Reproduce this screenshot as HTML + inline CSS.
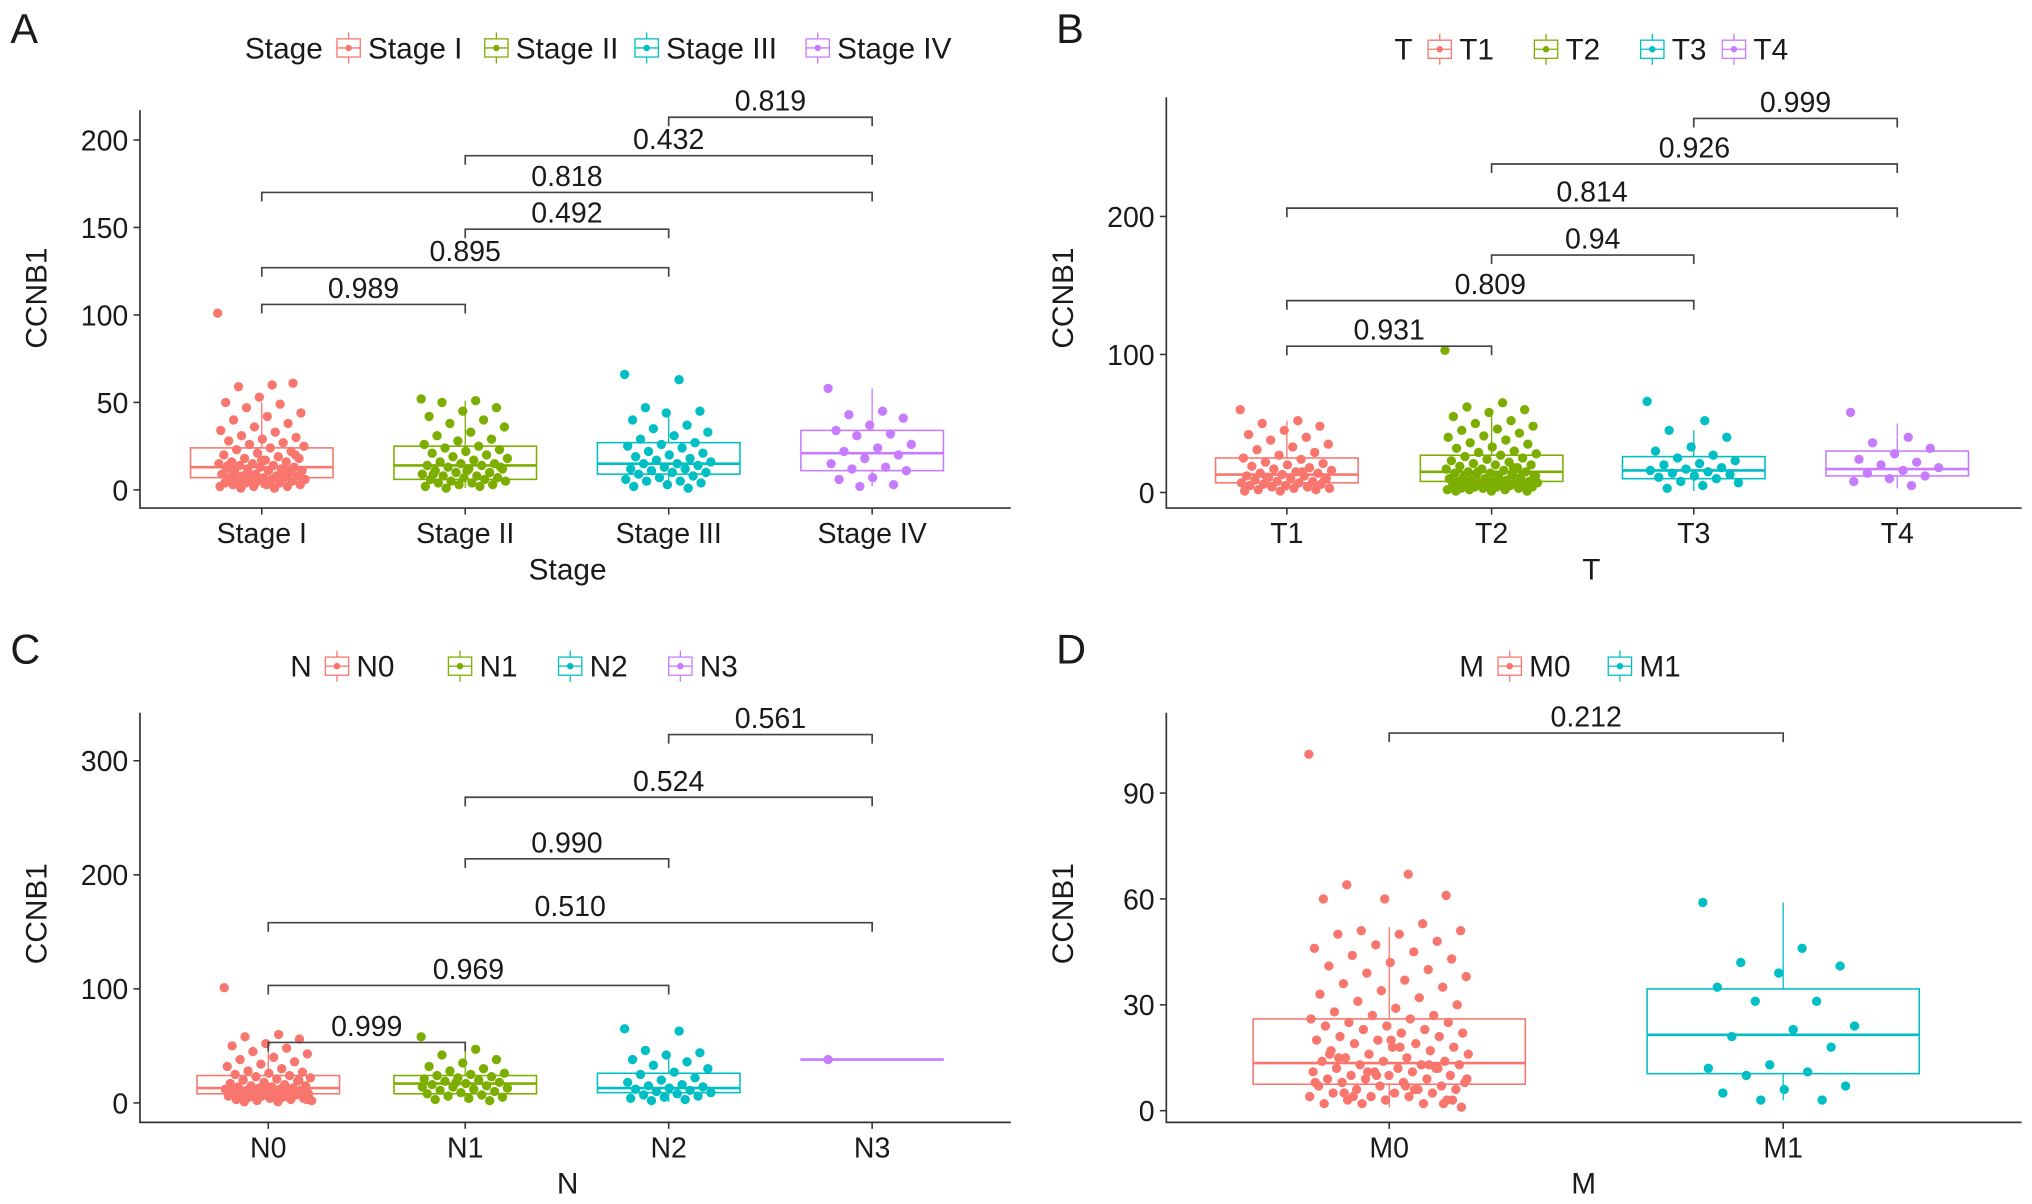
<!DOCTYPE html>
<html><head><meta charset="utf-8"><style>
html,body{margin:0;padding:0;background:#fff;}
svg{display:block;}
text{font-family:"Liberation Sans",sans-serif;fill:#1a1a1a;}
</style></head><body>
<svg id="fig" width="2032" height="1204" viewBox="0 0 1568 929" preserveAspectRatio="none" xmlns="http://www.w3.org/2000/svg"></svg>
<script>
// ---------- data ----------
const colors4 = ["#F8766D","#7CAE00","#00BFC4","#C77CFF"];
const colors2 = ["#F8766D","#00BFC4"];

const aCats = ["Stage I","Stage II","Stage III","Stage IV"];
const aBoxes = [[1,7,13,24,50],[1,6,14,25,51],[1,9,15,27,45],[2,11,21,34,58]];
const aStage1 = [101,60,59,61,53,50,49,47,44,42,40,38,36,34,33,31,30,29,28,27,26,25,24,23,22,21,20,19,18,18,17,16,16,15,15,14,14,13,13,12,12,12,11,11,10,10,9,9,8,8,8,7,7,7,6,6,6,5,5,5,4,4,4,3,3,3,2,2,2,1,1,20,17,14,11,9,6,4];
const aStage2 = [52,51,50,47,45,42,40,38,36,33,31,29,28,26,25,24,23,22,21,20,19,18,17,16,15,15,14,14,13,12,12,11,10,10,9,8,8,7,7,6,6,5,5,4,4,3,3,2,2,1,13,11,9];
const aStage3 = [66,63,47,45,44,40,37,35,33,31,29,27,26,25,24,22,21,20,19,18,17,16,15,15,14,13,12,12,11,10,10,9,8,7,6,5,5,4,3,2,1];
const aStage4 = [58,45,43,41,37,34,32,31,26,24,22,20,18,15,13,12,11,7,6,3,2];
const aValues = [aStage1,aStage2,aStage3,aStage4];
const aBrackets = [[0,1,106,"0.989"],[0,2,127,"0.895"],[1,2,149,"0.492"],[0,3,170,"0.818"],[1,3,191,"0.432"],[2,3,213,"0.819"]];
const aTicks = [0,50,100,150,200];

const bCats = ["T1","T2","T3","T4"];
const bBoxes = [[1,7,13,25,52],[1,8,15,27,56],[1,10,16,26,45],[3,12,17,30,50]];
const bT1 = [60,52,50,48,45,42,40,38,35,33,31,29,27,25,24,22,21,20,19,18,17,16,15,14,14,13,12,12,11,10,10,9,8,8,7,7,6,6,5,5,4,4,3,3,2,2,1,1,15,11,9];
const bT2 = [103,65,62,60,58,55,52,50,48,46,45,43,41,40,38,36,35,33,32,30,29,28,27,26,25,24,23,22,21,20,20,19,18,17,17,16,15,15,14,14,13,13,12,12,11,11,10,10,9,9,8,8,8,7,7,7,6,6,6,5,5,5,4,4,4,3,3,3,2,2,2,1,1,1,18,15,12,9,6];
const bT3 = [66,52,45,40,33,30,27,25,23,21,20,18,17,16,15,14,13,12,11,10,8,7,5,3];
const bT4 = [58,40,36,32,28,24,22,20,18,16,14,12,10,8,5];
const bValues = [bT1,bT2,bT3,bT4];
const bBrackets = [[0,1,106,"0.931"],[0,2,139,"0.809"],[1,2,172,"0.94"],[0,3,206,"0.814"],[1,3,238,"0.926"],[2,3,271,"0.999"]];
const bTicks = [0,100,200];

const cCats = ["N0","N1","N2","N3"];
const cBoxes = [[1,8,13,24,52],[1,8,17,24,45],[1,9,13,26,45],[38,38,38,38,38]];
const cN0 = [101,60,58,56,52,50,48,45,43,40,38,36,34,32,30,28,27,26,25,24,23,22,21,20,19,18,17,16,15,15,14,14,13,13,12,12,11,11,10,10,9,9,8,8,7,7,6,6,5,5,4,4,3,3,2,2,1,1,20,16,12,9,6,3];
const cN1 = [58,47,42,38,35,32,30,28,26,25,24,23,22,21,20,19,18,17,16,15,14,13,12,11,10,9,8,7,6,5,4,3,2,18,14];
const cN2 = [65,63,46,44,42,38,36,33,30,27,25,22,20,18,16,15,14,13,12,11,10,9,8,7,6,5,4,3,2];
const cN3 = [38];
const cValues = [cN0,cN1,cN2,cN3];
const cBrackets = [[0,1,53,"0.999"],[0,2,103,"0.969"],[0,3,158,"0.510"],[1,2,214,"0.990"],[1,3,268,"0.524"],[2,3,323,"0.561"]];
const cTicks = [0,100,200,300];

const dCats = ["M0","M1"];
const dBoxes = [[1,7.5,13.5,26,52],[3,10.5,21.5,34.5,59]];
const dM0 = [101,67,64,61,60,60,53,51,51,50,50,48,47,46,45,44,43,42,41,40,39,38,37,36,35,34,33,32,31,30,29,28,27,27,26,26,25,25,24,24,23,23,22,22,21,21,20,20,19,19,18,18,17,17,16,16,15,15,14,14,14,13,13,13,12,12,12,11,11,11,10,10,10,9,9,9,8,8,8,7,7,7,6,6,6,5,5,5,4,4,4,3,3,3,2,2,2,1,18,15,12,10,8,6,4,3,20,16,13,11,9,7,5,2];
const dM1 = [59,46,42,41,39,35,31,31,24,23,21,18,13,12,11,10,7,6,5,3,3];
const dValues = [dM0,dM1];
const dBrackets = [[0,1,107,"0.212"]];
const dTicks = [0,30,60,90];

// ---------- drawing ----------
const NS = "http://www.w3.org/2000/svg";
const svg = document.getElementById("fig");
function mk(tag, attrs, parent){
  const e = document.createElementNS(NS, tag);
  for (const k in attrs) e.setAttribute(k, attrs[k]);
  (parent||svg).appendChild(e);
  return e;
}

function panel(p){
  const colors = p.colors;
  const g = mk("g", {});
  
  
  const ys = v => p.zeroY - v * p.ppu;
  const xs = i => p.catX[i];
  const L = mk("text", {x:p.letterX, y:p.letterY, "font-size":32}, g);
  L.textContent = p.letter;
  
  
  const lg = mk("g", {}, g);
  
  
  const lt = mk("text", {x:p.legTitleX, y:p.legY+8, "font-size":23}, lg);
  lt.textContent = p.legTitle;
  
  
  p.cats.forEach((c,i)=>{
    const kx = p.legKeyX[i];
    const ke = mk("g", {}, lg);
    
    
    mk("line", {x1:kx+9, x2:kx+9, y1:p.legY-12, y2:p.legY+12, stroke:colors[i], "stroke-width":1}, ke);
    mk("rect", {x:kx, y:p.legY-7, width:18, height:14, fill:"#fff", stroke:colors[i], "stroke-width":1}, ke);
    mk("line", {x1:kx, x2:kx+18, y1:p.legY, y2:p.legY, stroke:colors[i], "stroke-width":1}, ke);
    mk("circle", {cx:kx+9, cy:p.legY, r:2.5, fill:colors[i]}, ke);
    const t = mk("text", {x:kx+24, y:p.legY+8, "font-size":23}, ke);
    t.textContent = c;
  });
  const ax = mk("path", {d:`M${p.axX},${p.axTop} V${p.axBot} H${p.axRight}`, fill:"none", stroke:"#333", "stroke-width":1.3}, g);
  
  
  p.ticks.forEach(t=>{
    const y = ys(t);
    mk("line", {x1:p.axX-5, x2:p.axX, y1:y, y2:y, stroke:"#333", "stroke-width":1.2}, g);
    const tx = mk("text", {x:p.axX-9, y:y+8, "font-size":22, "text-anchor":"end"}, g);
    tx.textContent = t;
    
    
  });
  p.cats.forEach((c,i)=>{
    mk("line", {x1:xs(i), x2:xs(i), y1:p.axBot, y2:p.axBot+5, stroke:"#333", "stroke-width":1.2}, g);
    const tx = mk("text", {x:xs(i), y:p.axBot+27, "font-size":22, "text-anchor":"middle"}, g);
    tx.textContent = c;
    
    
  });
  const xt = mk("text", {x:p.xTitleX, y:p.axBot+55, "font-size":23, "text-anchor":"middle"}, g);
  xt.textContent = p.legTitle;
  
  
  const yt = mk("text", {x:0, y:0, "font-size":23, "text-anchor":"middle", transform:`translate(${p.axX-72},${p.yTitleY}) rotate(-90)`}, g);
  yt.textContent = "CCNB1";
  
  
  p.boxes.forEach((b,i)=>{
    const cx = xs(i), hw = p.boxHW, col = colors[i];
    const bg = mk("g", {}, g);
    
    
    mk("line", {x1:cx, x2:cx, y1:ys(b[0]), y2:ys(b[1]), stroke:col, "stroke-width":1}, bg);
    mk("line", {x1:cx, x2:cx, y1:ys(b[3]), y2:ys(b[4]), stroke:col, "stroke-width":1}, bg);
    mk("rect", {x:cx-hw, y:ys(b[3]), width:2*hw, height:Math.max(0.01, ys(b[1])-ys(b[3])), fill:"none", stroke:col, "stroke-width":1.2}, bg);
    mk("line", {x1:cx-hw, x2:cx+hw, y1:ys(b[2]), y2:ys(b[2]), stroke:col, "stroke-width":2}, bg);
    p.values[i].forEach((v,k)=>{
      const jit = (((k*0.6180339) % 1) - 0.5) * 2 * p.jitW;
      const pt = mk("circle", {cx:cx + jit, cy:ys(v), r:p.r, fill:col}, bg);
      
      
    });
  });
  p.brackets.forEach(br=>{
    const x1 = xs(br[0]), x2 = xs(br[1]), y = ys(br[2]);
    const bk = mk("g", {}, g);
    
    
    mk("path", {d:`M${x1},${y+7} V${y} H${x2} V${y+7}`, fill:"none", stroke:"#444", "stroke-width":1.3}, bk);
    const t = mk("text", {x:(x1+x2)/2, y:y-5, "font-size":22, "text-anchor":"middle"}, bk);
    t.textContent = br[3];
  });
}

panel({name:"panel-a-stage", letter:"A", letterX:8, letterY:33, legTitle:"Stage", legTitleX:189, legY:37, colors:colors4,
  legKeyX:[260,374,490,622], cats:aCats, boxes:aBoxes, values:aValues, brackets:aBrackets, ticks:aTicks,
  catX:[202,359,516,673], zeroY:378, ppu:1.35, axX:108, axTop:85, axBot:392, axRight:780,
  xTitleX:438, yTitleY:230, boxHW:55, jitW:34, r:3.6});
panel({name:"panel-b-t", letter:"B", letterX:815, letterY:33, legTitle:"T", legTitleX:1076, legY:38, colors:colors4,
  legKeyX:[1102,1184,1266,1329], cats:bCats, boxes:bBoxes, values:bValues, brackets:bBrackets, ticks:bTicks,
  catX:[993,1151,1307,1464], zeroY:380, ppu:1.065, axX:900, axTop:75, axBot:392, axRight:1560,
  xTitleX:1228, yTitleY:230, boxHW:55, jitW:36, r:3.6});
panel({name:"panel-c-n", letter:"C", letterX:8, letterY:512, legTitle:"N", legTitleX:224, legY:514, colors:colors4,
  legKeyX:[251,346,431,516], cats:cCats, boxes:cBoxes, values:cValues, brackets:cBrackets, ticks:cTicks,
  catX:[207,359,516,673], zeroY:851, ppu:0.88, axX:108, axTop:550, axBot:866, axRight:780,
  xTitleX:438, yTitleY:705, boxHW:55, jitW:34, r:3.6});
panel({name:"panel-d-m", letter:"D", letterX:815, letterY:512, legTitle:"M", legTitleX:1126, legY:514, colors:colors2,
  legKeyX:[1156,1241], cats:dCats, boxes:dBoxes, values:dValues, brackets:dBrackets, ticks:dTicks,
  catX:[1072,1376], zeroY:857, ppu:2.723, axX:900, axTop:550, axBot:866, axRight:1560,
  xTitleX:1222, yTitleY:705, boxHW:105, jitW:62, r:3.6});
</script>
</body></html>
